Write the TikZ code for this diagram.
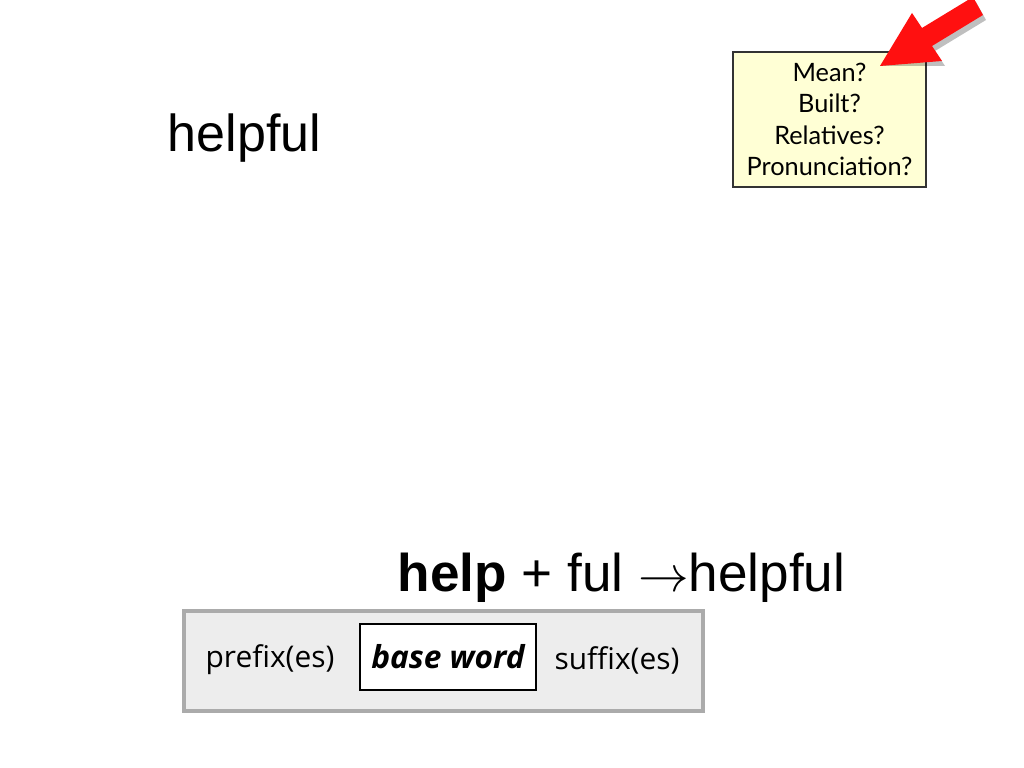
\documentclass[tikz,border=0pt]{standalone}
\usepackage{fontspec}
\setmainfont{Liberation Sans}
\newfontfamily\notefont{Lato}
\newfontfamily\chartfont{Open Sans}
\usetikzlibrary{calc}
\definecolor{notefill}{HTML}{FFFFD5}
\definecolor{chartfill}{HTML}{EDEDED}
\definecolor{chartline}{HTML}{ABABAB}
\definecolor{pointred}{HTML}{FF1010}

\begin{document}
\begin{tikzpicture}[x=0.01cm, y=-0.01cm,
  bigword/.style={anchor=base west, inner sep=0pt, font=\fontsize{14.8}{18}\selectfont},
  chartword/.style={inner sep=0pt, font=\chartfont\fontsize{8.5}{10}\selectfont}]
\useasboundingbox[fill=white] (0,0) rectangle (1024,768);

% word at the top
\node[bigword] (word) at (167,152) {helpful};

% note with the questions
\node[draw=black!80, fill=notefill, line width=0.4pt,
  minimum width=1.93cm, minimum height=1.35cm, inner sep=0pt,
  align=center, font=\notefont\fontsize{7.2}{8.9}\selectfont]
  (note) at (829.5,119.5) {Mean?\\Built?\\Relatives?\\Pronunciation?};

% red pointer
\coordinate (Tip) at (880,66);
\def\pointer{(Tip) -- (912,13) -- (922,28) -- (973,-3) -- (983,15)
  -- (932,46) -- (942,61) -- cycle}
\fill[black, opacity=0.25, shift={(3,5)}] \pointer;
\fill[pointred] \pointer;

% word sum
\node[bigword, font=\fontsize{15.1}{18}\selectfont] (sum) at (397,592)
  {\textbf{help} + ful $\rightarrow$helpful};

% word structure chart
\draw[chartline, fill=chartfill, line width=1.1pt] (184,611) rectangle (703,711);
\node[draw=black, fill=white, line width=0.8pt, minimum width=1.76cm,
  minimum height=0.66cm, inner sep=0pt,
  font=\chartfont\bfseries\itshape\fontsize{9}{10}\selectfont]
  (base) at (448,657) {base word};
\node[chartword] (prefix) at (270,660) {prefix(es)};
\node[chartword] (suffix) at (617,660) {suffix(es)};
\end{tikzpicture}
\end{document}
